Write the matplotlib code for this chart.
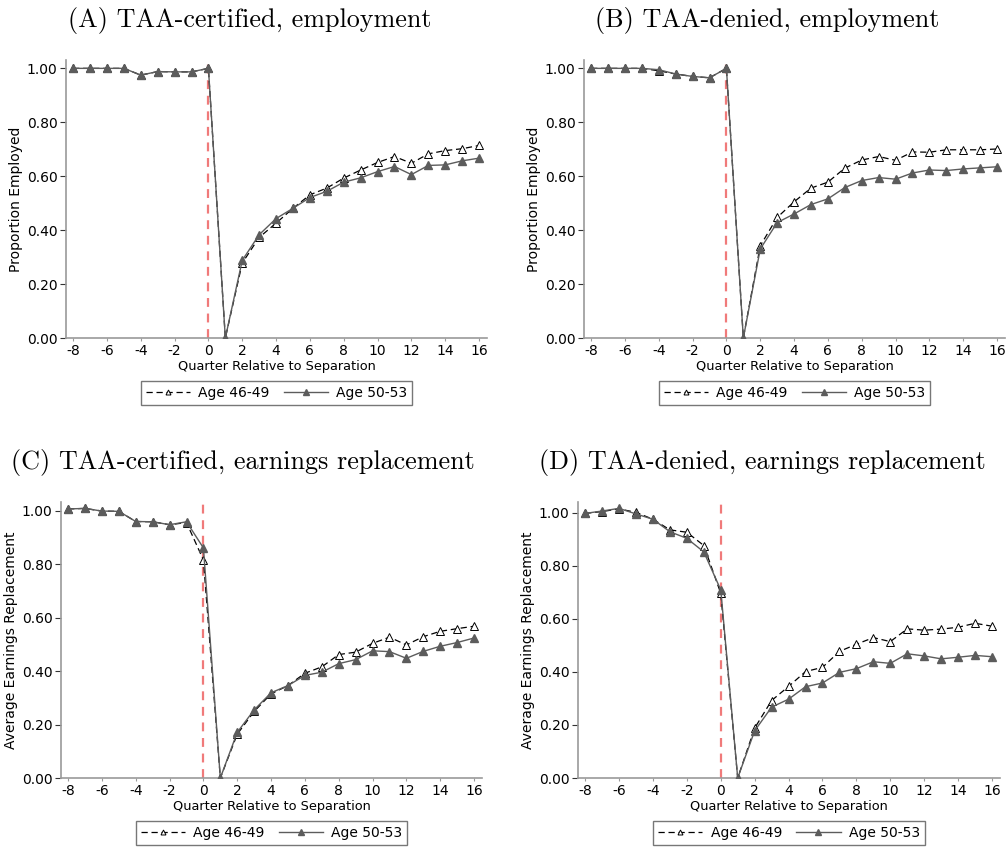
import matplotlib
matplotlib.use("Agg")
import matplotlib.pyplot as plt

quarters = list(range(-8, 17))

# (A) TAA-certified, employment
a_young = [1.00, 1.00, 1.00, 1.00, 0.975, 0.988, 0.987, 0.987, 1.00, 0.00,
           0.278, 0.373, 0.426, 0.481, 0.531, 0.556, 0.593, 0.623, 0.651,
           0.673, 0.648, 0.683, 0.695, 0.702, 0.714]
a_old = [1.00, 1.00, 1.00, 1.00, 0.975, 0.988, 0.987, 0.987, 1.00, 0.00,
         0.288, 0.383, 0.443, 0.481, 0.521, 0.544, 0.578, 0.594, 0.617,
         0.636, 0.606, 0.640, 0.642, 0.657, 0.667]

# (B) TAA-denied, employment
b_young = [1.00, 1.00, 1.00, 1.00, 0.991, 0.979, 0.970, 0.965, 1.00, 0.00,
           0.342, 0.447, 0.505, 0.556, 0.578, 0.630, 0.660, 0.673, 0.659,
           0.690, 0.689, 0.698, 0.698, 0.698, 0.701]
b_old = [1.00, 1.00, 1.00, 1.00, 0.995, 0.979, 0.970, 0.965, 1.00, 0.00,
         0.330, 0.428, 0.460, 0.495, 0.516, 0.558, 0.584, 0.595, 0.589,
         0.612, 0.623, 0.621, 0.627, 0.631, 0.635]

# (C) TAA-certified, earnings replacement
c_young = [1.007, 1.009, 0.999, 0.998, 0.960, 0.959, 0.948, 0.956, 0.816, 0.00,
           0.164, 0.249, 0.315, 0.346, 0.392, 0.416, 0.462, 0.471, 0.504,
           0.527, 0.498, 0.529, 0.549, 0.559, 0.568]
c_old = [1.007, 1.009, 0.999, 0.998, 0.960, 0.959, 0.948, 0.959, 0.861, 0.00,
         0.171, 0.255, 0.319, 0.346, 0.384, 0.396, 0.428, 0.443, 0.476,
         0.473, 0.448, 0.474, 0.493, 0.507, 0.524]

# (D) TAA-denied, earnings replacement
d_young = [0.997, 1.004, 1.014, 1.001, 0.975, 0.935, 0.926, 0.876, 0.696, 0.00,
           0.188, 0.292, 0.345, 0.401, 0.417, 0.477, 0.504, 0.529, 0.514,
           0.562, 0.557, 0.561, 0.568, 0.583, 0.572]
d_old = [0.997, 1.006, 1.016, 0.995, 0.975, 0.928, 0.903, 0.852, 0.709, 0.00,
         0.178, 0.267, 0.297, 0.344, 0.358, 0.398, 0.412, 0.438, 0.432,
         0.468, 0.460, 0.449, 0.455, 0.462, 0.457]

titles = ["(A) TAA-certified, employment", "(B) TAA-denied, employment",
          "(C) TAA-certified, earnings replacement",
          "(D) TAA-denied, earnings replacement"]
ylabels = ["Proportion Employed", "Proportion Employed",
           "Average Earnings Replacement", "Average Earnings Replacement"]
yticks = [0.0, 0.2, 0.4, 0.6, 0.8, 1.0]
xticks = list(range(-8, 17, 2))
legend_labels = ["Age 46-49", "Age 50-53"]

panels = [(a_young, a_old), (b_young, b_old), (c_young, c_old), (d_young, d_old)]
# axes rectangles in pixels: left, right, top, bottom
rects = [(66, 487, 60, 338), (584, 1005, 60, 338),
         (61, 482, 502, 778), (578, 1000, 502, 778)]
ytops = [1.031, 1.031, 1.033, 1.04]
title_pos = [(250, 20), (767, 20), (243, 463), (762, 463)]

W, H = 1008, 848
fig = plt.figure(figsize=(W / 100, H / 100), dpi=100)
gray = "#5c5c5c"
spine_col = "#9a9a9a"

for i, (young, old) in enumerate(panels):
    l, r, t, b = rects[i]
    ax = fig.add_axes([l / W, 1 - b / H, (r - l) / W, (b - t) / H])
    ax.axvline(0, color="#f07a7a", linestyle=(0, (4, 3)), linewidth=1.6, zorder=1)
    ax.plot(quarters, young, color="black", linestyle=(0, (5, 3)), linewidth=0.9,
            marker="^", markersize=5.5, markerfacecolor="white",
            markeredgecolor="black", markeredgewidth=0.7, label=legend_labels[0],
            zorder=2)
    ax.plot(quarters, old, color=gray, linestyle="-", linewidth=1.0,
            marker="^", markersize=6, markerfacecolor=gray, markeredgecolor=gray,
            label=legend_labels[1], zorder=3)
    ax.set_xlim(-8.42, 16.47)
    ax.set_ylim(0, ytops[i])
    ax.set_xticks(xticks)
    ax.set_xticklabels([str(x) for x in xticks])
    ax.set_yticks(yticks)
    ax.set_yticklabels(["%.2f" % y for y in yticks])
    for s in ["top", "right"]:
        ax.spines[s].set_visible(False)
    for s in ["left", "bottom"]:
        ax.spines[s].set_color(spine_col)
        ax.spines[s].set_linewidth(1.2)
    ax.tick_params(axis="y", length=4, width=0.8, color="#333333",
                   labelsize=10, pad=2, direction="out")
    ax.tick_params(axis="x", length=2, width=0.8, color=spine_col,
                   labelsize=10, pad=2, direction="out")
    ax.set_xlabel("Quarter Relative to Separation", fontsize=9.3, labelpad=1.5)
    ax.set_ylabel(ylabels[i], fontsize=10, labelpad=3)
    leg = ax.legend(loc="upper center", bbox_to_anchor=(0.5, -0.155), ncol=2,
                    frameon=True, fancybox=False, fontsize=10,
                    handlelength=3.2, handletextpad=0.6, columnspacing=1.0,
                    borderpad=0.35, borderaxespad=0, markerscale=0.65)
    leg.get_frame().set_edgecolor("#555555")
    leg.get_frame().set_linewidth(1.0)
    tx, ty = title_pos[i]
    fig.text(tx / W, 1 - ty / H, titles[i], ha="center", va="center",
             fontsize=18.8, family="cmr10")

fig.savefig("out.png", dpi=100)
